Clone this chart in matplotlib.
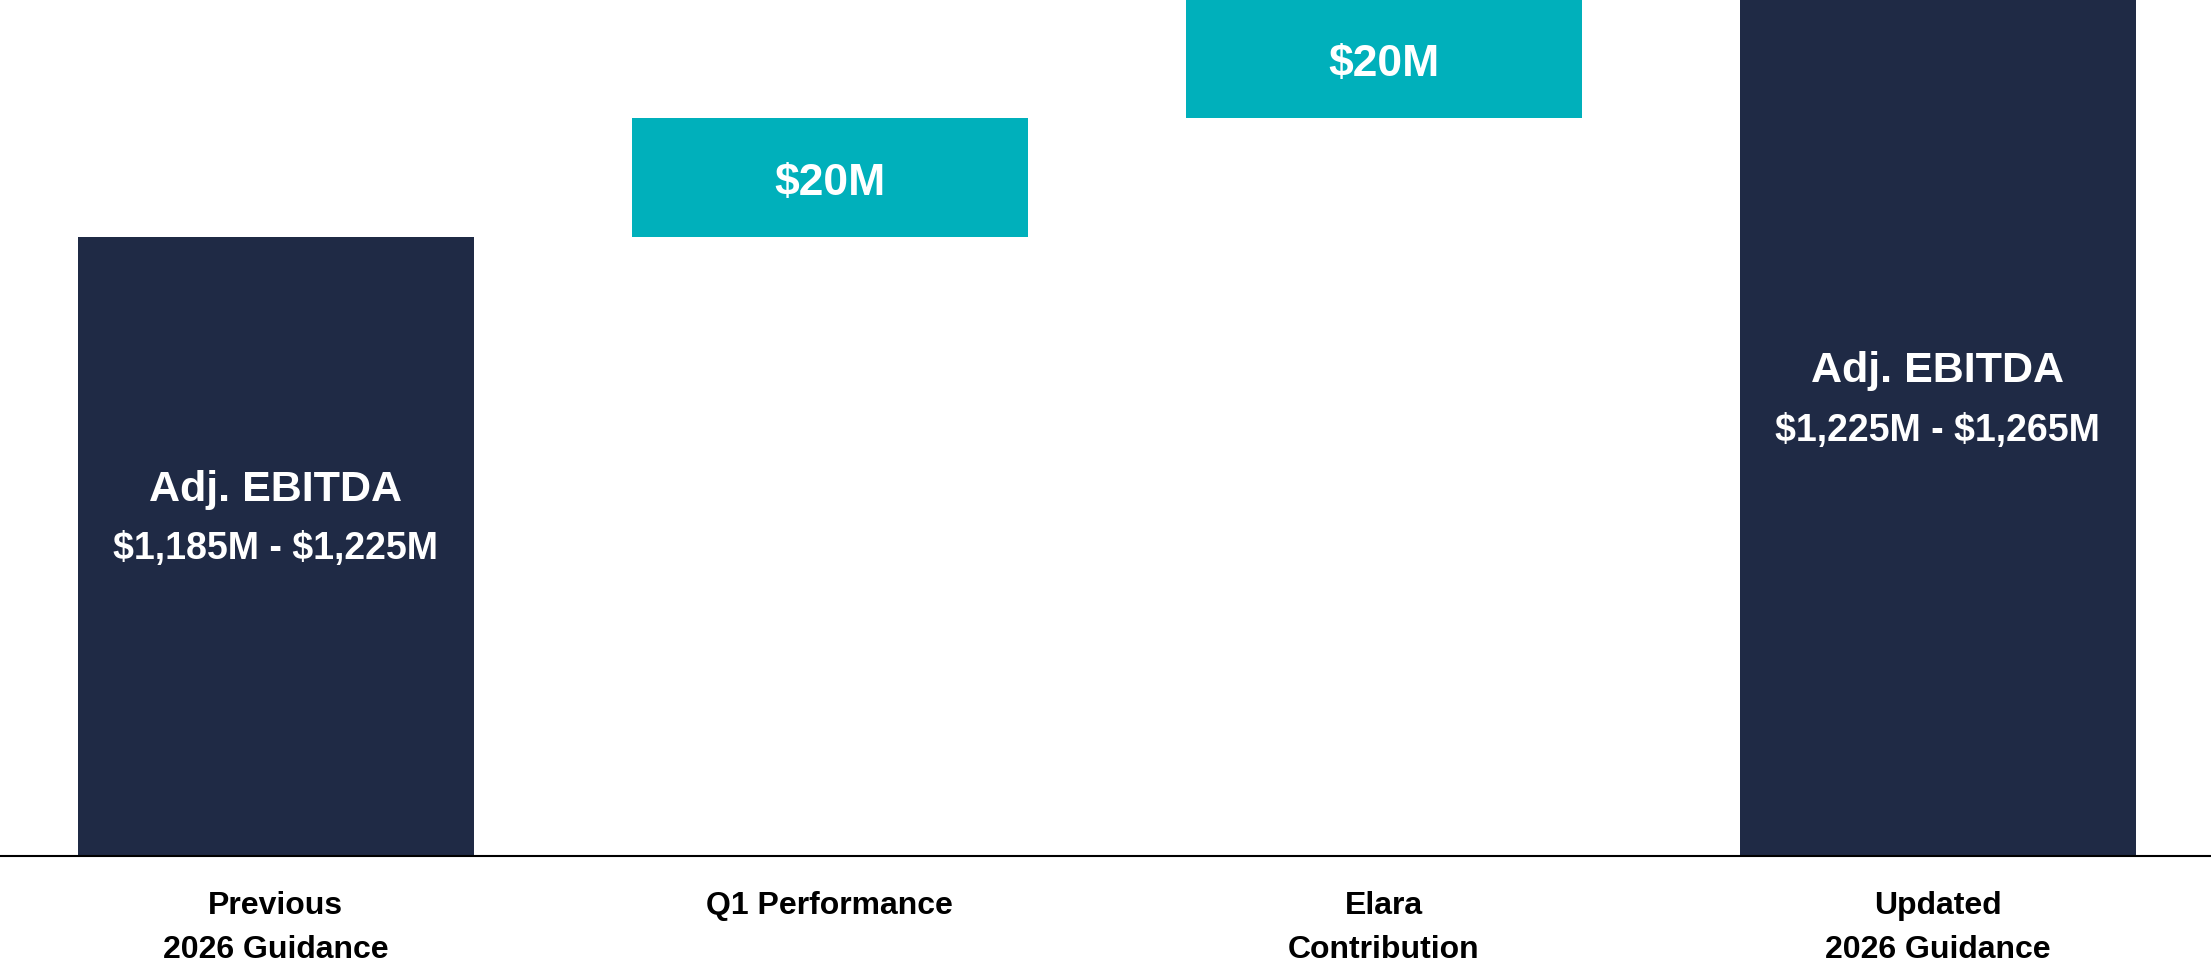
import numpy as np
import matplotlib.pyplot as plt

# * * * * * * * * * * * data * * * * * * * * * * * * * * * * * * * * * * * *

categories = ["Previous\n2026 Guidance", "Q1 Performance",
              "Elara\nContribution", "Updated\n2026 Guidance"]

previousRange = [1185, 1225]   # [$M]
steps         = [20, 20]       # [$M] Q1, Elara
updatedRange  = [1225, 1265]   # [$M]

stepLabels  = ["\\$20M", "\\$20M"]
totalTitle  = "Adj. EBITDA"

# * * * * * * * * * * * style * * * * * * * * * * * * * * * * * * * * * * * *

navy  = "#1F2A45"
teal  = "#00B0BB"
floor = 1120.5    # axis cut
plt.rcParams['font.family'] = ['Liberation Sans', 'DejaVu Sans']

fig = plt.figure(figsize=(22.11, 9.66), dpi=100)
ax = fig.add_axes([0, 110/966, 1, 856/966])

width = 0.715

# Totals
totals = [previousRange, updatedRange]
for i, rng in zip([0, 3], totals):
    top = rng[1]
    ax.bar(i, top - floor, bottom=floor, width=width, color=navy)
    mid = (floor + top)/2
    ax.annotate(totalTitle, (i, mid), xytext=(0, 41), textcoords='offset points',
                ha='center', va='center', color='white',
                fontsize=31, fontweight='bold')
    ax.annotate(f"\\${rng[0]:,}M - \\${rng[1]:,}M", (i, mid), xytext=(0, -2),
                textcoords='offset points', ha='center', va='center',
                color='white', fontsize=27, fontweight='bold')

# Steps
level = previousRange[1]
for j, (d, lab) in enumerate(zip(steps, stepLabels)):
    ax.bar(j + 1, d, bottom=level, width=width, color=teal)
    ax.annotate(lab, (j + 1, level + d/2), xytext=(0, -4),
                textcoords='offset points', ha='center', va='center',
                color='white', fontsize=32, fontweight='bold')
    level += d

ax.set_xlim(-0.498, 3.493)
ax.set_ylim(floor, updatedRange[1])

ax.set_xticks(range(len(categories)))
ax.set_xticklabels(categories, fontsize=23, fontweight='bold', linespacing=1.6)
ax.tick_params(axis='x', length=0, pad=25)
ax.set_yticks([])
for s in ['top', 'left', 'right']:
    ax.spines[s].set_visible(False)
ax.spines['bottom'].set_linewidth(1.5)
ax.spines['bottom'].set_color('black')

fig.savefig('out.png', dpi=100)
